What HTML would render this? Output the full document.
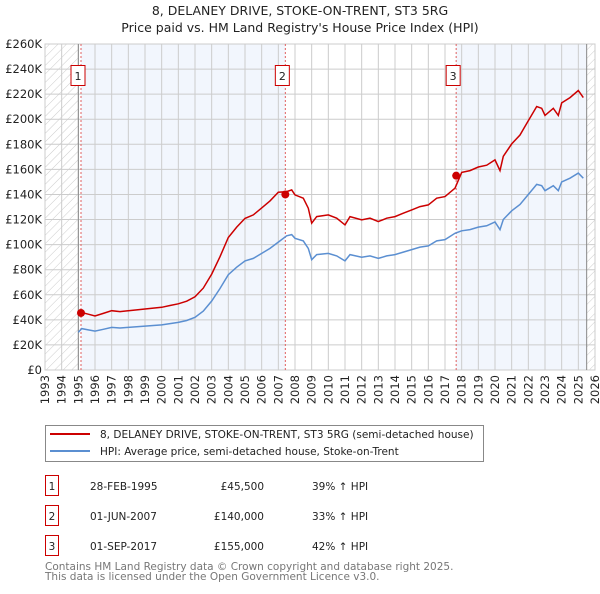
<!DOCTYPE html>
<html><head><meta charset="utf-8"><style>
body{margin:0;background:#fff;font-family:"DejaVu Sans","Liberation Sans",sans-serif;}
svg text{font-family:"DejaVu Sans","Liberation Sans",sans-serif;}
</style></head><body>
<svg id="chart" width="600" height="590" viewBox="0 0 600 590" xmlns="http://www.w3.org/2000/svg">
<defs><pattern id="hatch" width="6" height="6" patternUnits="userSpaceOnUse" patternTransform="rotate(45)"><line x1="0" y1="0" x2="0" y2="6" stroke="#ccc" stroke-width="1"/></pattern></defs>
<text x="300" y="15" text-anchor="middle" font-size="12.5" fill="#222">8, DELANEY DRIVE, STOKE-ON-TRENT, ST3 5RG</text>
<text x="300" y="32" text-anchor="middle" font-size="12.5" fill="#222">Price paid vs. HM Land Registry's House Price Index (HPI)</text>
<g id="plot"></g>
<g>
<rect x="45.5" y="425.5" width="438" height="36" fill="#fff" stroke="#888"/>
<line x1="50" y1="434" x2="90" y2="434" stroke="#cc0000" stroke-width="2"/>
<text x="100" y="438" font-size="10.5" fill="#222">8, DELANEY DRIVE, STOKE-ON-TRENT, ST3 5RG (semi-detached house)</text>
<line x1="50" y1="451" x2="90" y2="451" stroke="#5b8fd1" stroke-width="2"/>
<text x="100" y="455" font-size="10.5" fill="#222">HPI: Average price, semi-detached house, Stoke-on-Trent</text>
</g>
<g id="table" font-size="10.5" fill="#222"></g>
<text x="45" y="570" font-size="10.5" fill="#777">Contains HM Land Registry data © Crown copyright and database right 2025.</text>
<text x="45" y="580" font-size="10.5" fill="#777">This data is licensed under the Open Government Licence v3.0.</text>
</svg>
<script>
const yearTicks=[1993,1994,1995,1996,1997,1998,1999,2000,2001,2002,2003,2004,2005,2006,2007,2008,2009,2010,2011,2012,2013,2014,2015,2016,2017,2018,2019,2020,2021,2022,2023,2024,2025,2026];
const priceTicks=[0,20000,40000,60000,80000,100000,120000,140000,160000,180000,200000,220000,240000,260000];
const priceLabels=["£0","£20K","£40K","£60K","£80K","£100K","£120K","£140K","£160K","£180K","£200K","£220K","£240K","£260K"];
const hpiDates=[1995.0,1995.2,1995.6,1996,1996.5,1997,1997.5,1998,1998.5,1999,1999.5,2000,2000.5,2001,2001.5,2002,2002.5,2003,2003.5,2004,2004.5,2005,2005.5,2006,2006.5,2007,2007.5,2007.8,2008,2008.5,2008.8,2009,2009.3,2010,2010.5,2011,2011.3,2012,2012.5,2013,2013.5,2014,2014.5,2015,2015.5,2016,2016.5,2017,2017.6,2018,2018.5,2019,2019.5,2020,2020.3,2020.5,2021,2021.5,2022,2022.5,2022.8,2023,2023.5,2023.8,2024,2024.5,2025,2025.3];
const hpiValues=[30000,33000,32000,31000,32500,34000,33500,34000,34500,35000,35500,36000,37000,38000,39500,42000,47000,55000,65000,76000,82000,87000,89000,93000,97000,102000,107000,108000,105000,103000,97000,88000,92000,93000,91000,87000,92000,90000,91000,89000,91000,92000,94000,96000,98000,99000,103000,104000,109000,111000,112000,114000,115000,118000,112000,120000,127000,132000,140000,148000,147000,143000,147000,143000,150000,153000,157000,153000];
const saleDates=[1995.16,2007.42,2017.67];
const salePrices=[45500,140000,155000];
const saleLabels=["28-FEB-1995","01-JUN-2007","01-SEP-2017"];
const salePriceText=["£45,500","£140,000","£155,000"];
const salePct=["39% ↑ HPI","33% ↑ HPI","42% ↑ HPI"];
const saleRatios=[1.39,1.33,1.42];

const NS="http://www.w3.org/2000/svg";
const X0=45,X1=595,Y0=370,Y1=44;
const xs=d=>X0+(d-1993)/(2026-1993)*(X1-X0);
const ys=v=>Y0-v/260000*(Y0-Y1);
const plot=document.getElementById('plot');
function mk(tag,attrs,parent){const e=document.createElementNS(NS,tag);for(const k in attrs)e.setAttribute(k,attrs[k]);(parent||plot).appendChild(e);return e;}

mk('rect',{x:X0,y:Y1,width:X1-X0,height:Y0-Y1,fill:'#fff',stroke:'#ccc'});
let sh=mk('rect',{x:xs(saleDates[0]),y:Y1,width:xs(saleDates[1])-xs(saleDates[0]),height:Y0-Y1,fill:'#f2f6fd'});

sh=mk('rect',{x:xs(saleDates[2]),y:Y1,width:xs(2025.5)-xs(saleDates[2]),height:Y0-Y1,fill:'#f2f6fd'});

let ht=mk('rect',{x:X0,y:Y1,width:xs(1995)-X0,height:Y0-Y1,fill:'url(#hatch)'});

ht=mk('rect',{x:xs(2025.5),y:Y1,width:X1-xs(2025.5),height:Y0-Y1,fill:'url(#hatch)'});

for(let y=1993;y<=2026;y++){mk('line',{x1:xs(y),x2:xs(y),y1:Y1,y2:Y0,stroke:'#ccc','stroke-width':1});}
priceTicks.forEach((v,i)=>{mk('line',{x1:X0,x2:X1,y1:ys(v),y2:ys(v),stroke:'#ccc','stroke-width':1});
 const t=mk('text',{x:X0-3,y:ys(v)+4,'text-anchor':'end','font-size':'11.5',fill:'#222'});t.textContent=priceLabels[i];
 });
yearTicks.forEach(y=>{const t=mk('text',{transform:`translate(${xs(y)+4},${Y0+5}) rotate(-90)`,'text-anchor':'end','font-size':'11.5',fill:'#222'});t.textContent=y;
 });
mk('line',{x1:xs(1995),x2:xs(1995),y1:Y1,y2:Y0,stroke:'#888'});
mk('line',{x1:xs(2025.5),x2:xs(2025.5),y1:Y1,y2:Y0,stroke:'#888'});
saleDates.forEach((d,i)=>{
 const l=mk('line',{x1:xs(d),x2:xs(d),y1:Y1,y2:Y0,stroke:'#e06060','stroke-dasharray':'2,2'});
 
 const bx=xs(d)-9.5;
 const r=mk('rect',{x:bx-0.5,y:65.5,width:14,height:20,fill:'#fff',stroke:'#cc0000'});
 
 const t=mk('text',{x:bx+6.5,y:80,'text-anchor':'middle','font-size':'11',fill:'#222'});t.textContent=i+1;
});
let hp='',rp='';
hpiDates.forEach((d,i)=>{
 hp+=(i?'L':'M')+xs(d).toFixed(1)+','+ys(hpiValues[i]).toFixed(1);
});
let first=true;
hpiDates.forEach((d,i)=>{
 if(d<saleDates[0])return;
 let seg=d>=saleDates[2]?2:(d>=saleDates[1]?1:0);
 rp+=(first?'M':'L')+xs(d).toFixed(1)+','+ys(hpiValues[i]*saleRatios[seg]).toFixed(1);first=false;
});
const hl=mk('path',{d:hp,fill:'none',stroke:'#5b8fd1','stroke-width':1.5});

const rl=mk('path',{d:rp,fill:'none',stroke:'#cc0000','stroke-width':1.5});

saleDates.forEach((d,i)=>{const c=mk('circle',{cx:xs(d),cy:ys(salePrices[i]),r:4,fill:'#cc0000'});
 });
const tb=document.getElementById('table');
saleLabels.forEach((s,i)=>{const y=490+i*30;
 const r=mk('rect',{x:45.5,y:y-14.5,width:13,height:20,fill:'#fff',stroke:'#cc0000'},tb);
 
 let t=mk('text',{x:52,y:y,'text-anchor':'middle'},tb);t.textContent=i+1;
 t=mk('text',{x:90,y:y},tb);t.textContent=s;
 t=mk('text',{x:264,y:y,'text-anchor':'end'},tb);t.textContent=salePriceText[i];
 t=mk('text',{x:312,y:y},tb);t.textContent=salePct[i];
});
</script>
</body></html>
